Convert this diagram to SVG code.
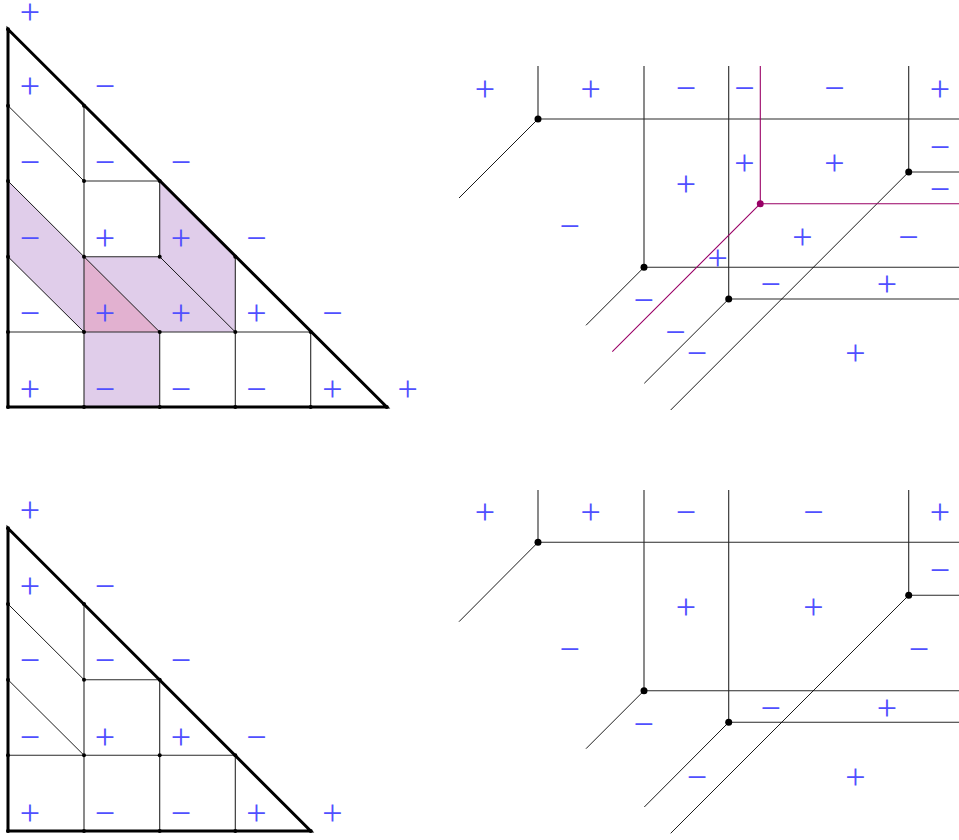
<svg xmlns="http://www.w3.org/2000/svg" width="959" height="840" viewBox="0 0 959 840">
<style>
.s{font-family:"Liberation Serif",serif;font-size:36px;fill:#5050ff;text-anchor:middle}
.b{fill:none;stroke:#000;stroke-width:3;stroke-linejoin:miter}
.g{fill:none;stroke:#2a2a2a;stroke-width:1.1}
.d{fill:none;stroke:#000;stroke-width:0.9}
.m{fill:none;stroke:#990066;stroke-width:1.1}
.dot{fill:#000}
.pu{fill:#e0cdea}
.pk{fill:#e2b1d0}
</style>
<rect width="959" height="840" fill="#fff"/>

<g id="tri-top">
  <g id="shading">
    <polygon class="pu" points="8,181 84,256.7 84,332 8,256.7"/>
    <polygon class="pu" points="84,256.7 159.7,256.7 235.3,332 159.7,332"/>
    <polygon class="pu" points="159.7,181 235.3,256.7 235.3,332 159.7,256.7"/>
    <polygon class="pu" points="84,332 159.7,332 159.7,407 84,407"/>
    <polygon class="pk" points="84,256.7 159.7,332 84,332"/>
  </g>
  <g id="tri-top-lines">
    <path class="d" d="M8,105.7 L84,181 M8,181 L84,256.7 M8,256.7 L84,332 M84,256.7 L159.7,332 M159.7,256.7 L235.3,332"/>
    <path class="g" d="M84,105.7 V407 M159.7,181 V256.7 M159.7,332 V407 M235.3,256.7 V407 M310.7,332 V407 M84,181 H159.7 M84,256.7 H159.7 M8,332 H310.7"/>
    <polygon class="b" points="8,29.3 8,407 386.7,407"/>
  </g>
  <g id="tri-top-dots" class="dot">
    <circle cx="8" cy="29.3" r="2"/><circle cx="8" cy="105.7" r="2"/><circle cx="8" cy="181" r="2"/><circle cx="8" cy="256.7" r="2"/><circle cx="8" cy="332" r="2"/><circle cx="8" cy="407" r="2"/>
    <circle cx="84" cy="105.7" r="2"/><circle cx="84" cy="181" r="2"/><circle cx="159.7" cy="181" r="2"/>
    <circle cx="84" cy="256.7" r="2"/><circle cx="159.7" cy="256.7" r="2"/><circle cx="235.3" cy="256.7" r="2"/>
    <circle cx="84" cy="332" r="2"/><circle cx="159.7" cy="332" r="2"/><circle cx="235.3" cy="332" r="2"/><circle cx="310.7" cy="332" r="2"/>
    <circle cx="84" cy="407" r="2"/><circle cx="159.7" cy="407" r="2"/><circle cx="235.3" cy="407" r="2"/><circle cx="310.7" cy="407" r="2"/><circle cx="386.7" cy="407" r="2"/>
  </g>
  <g id="tri-top-labels" transform="translate(0,3.5)">
    <text class="s" x="30" y="20">+</text>
    <text class="s" x="30" y="94">+</text><text class="s" x="105" y="94">−</text>
    <text class="s" x="30" y="170">−</text><text class="s" x="105" y="170">−</text><text class="s" x="181" y="170">−</text>
    <text class="s" x="30" y="246">−</text><text class="s" x="105" y="246">+</text><text class="s" x="181" y="246">+</text><text class="s" x="256.3" y="246">−</text>
    <text class="s" x="30" y="321">−</text><text class="s" x="105" y="321">+</text><text class="s" x="181" y="321">+</text><text class="s" x="256.3" y="321">+</text><text class="s" x="332.3" y="321">−</text>
    <text class="s" x="30" y="397">+</text><text class="s" x="105" y="397">−</text><text class="s" x="181" y="397">−</text><text class="s" x="256.3" y="397">−</text><text class="s" x="332.3" y="397">+</text><text class="s" x="407.7" y="397">+</text>
  </g>
</g>

<g id="trop-top">
  <g id="trop-top-lines">
    <path class="g" d="M538,66 V119 H959 M644,66 V267.3 H959 M728.7,66 V299 H959 M908.7,66 V172 H959"/>
    <path class="d" d="M538,119 L459,198 M644,267.3 L586,325.3 M728.7,299 L644.3,383.3 M908.7,172 L670.7,410"/>
    <path class="m" d="M760.3,66 V203.7 H959 M760.3,203.7 L612.3,351.7"/>
  </g>
  <g id="trop-top-dots">
    <circle class="dot" cx="538" cy="119" r="3.5"/>
    <circle class="dot" cx="644" cy="267.3" r="3.5"/>
    <circle class="dot" cx="728.7" cy="299" r="3.5"/>
    <circle class="dot" cx="908.7" cy="172" r="3.5"/>
    <circle cx="760.3" cy="203.7" r="3.5" fill="#990066"/>
  </g>
  <g id="trop-top-labels" transform="translate(0,3.5)">
    <text class="s" x="485" y="97">+</text><text class="s" x="590.7" y="97">+</text><text class="s" x="686" y="96">−</text><text class="s" x="744.3" y="96">−</text><text class="s" x="834.3" y="96">−</text><text class="s" x="940" y="97">+</text>
    <text class="s" x="940" y="155">−</text><text class="s" x="940" y="197">−</text>
    <text class="s" x="744.3" y="171">+</text><text class="s" x="834.3" y="171">+</text><text class="s" x="686" y="192">+</text>
    <text class="s" x="569.7" y="234">−</text><text class="s" x="802.3" y="245">+</text><text class="s" x="908.3" y="245">−</text>
    <text class="s" x="717.7" y="266">+</text><text class="s" x="770.7" y="292">−</text><text class="s" x="887" y="292">+</text>
    <text class="s" x="643.7" y="308">−</text><text class="s" x="675.3" y="340">−</text><text class="s" x="697" y="361">−</text><text class="s" x="855.3" y="361">+</text>
  </g>
</g>

<g id="tri-bottom">
  <g id="tri-bottom-lines">
    <path class="d" d="M8,604 L84,679.7 M8,679.7 L84,755.3"/>
    <path class="g" d="M84,604 V831 M159.7,679.7 V831 M235.3,755.3 V831 M84,679.7 H159.7 M8,755.3 H235.3"/>
    <polygon class="b" points="8,528.3 8,831 310.7,831"/>
  </g>
  <g id="tri-bottom-dots" class="dot">
    <circle cx="8" cy="528.3" r="2"/><circle cx="8" cy="604" r="2"/><circle cx="8" cy="679.7" r="2"/><circle cx="8" cy="755.3" r="2"/><circle cx="8" cy="831" r="2"/>
    <circle cx="84" cy="604" r="2"/><circle cx="84" cy="679.7" r="2"/><circle cx="159.7" cy="679.7" r="2"/>
    <circle cx="84" cy="755.3" r="2"/><circle cx="159.7" cy="755.3" r="2"/><circle cx="235.3" cy="755.3" r="2"/>
    <circle cx="84" cy="831" r="2"/><circle cx="159.7" cy="831" r="2"/><circle cx="235.3" cy="831" r="2"/><circle cx="310.7" cy="831" r="2"/>
  </g>
  <g id="tri-bottom-labels" transform="translate(0,3.5)">
    <text class="s" x="30" y="518">+</text>
    <text class="s" x="30" y="594">+</text><text class="s" x="105" y="594">−</text>
    <text class="s" x="30" y="668">−</text><text class="s" x="105" y="668">−</text><text class="s" x="181" y="668">−</text>
    <text class="s" x="30" y="745">−</text><text class="s" x="105" y="745">+</text><text class="s" x="181" y="745">+</text><text class="s" x="256.3" y="745">−</text>
    <text class="s" x="30" y="821">+</text><text class="s" x="105" y="821">−</text><text class="s" x="181" y="821">−</text><text class="s" x="256.3" y="821">+</text><text class="s" x="332.3" y="821">+</text>
  </g>
</g>

<g id="trop-bottom">
  <g id="trop-bottom-lines">
    <path class="g" d="M538,490 V542.3 H959 M644,490 V690.7 H959 M728.7,490 V722.3 H959 M908.7,490 V595.3 H959"/>
    <path class="d" d="M538,542.3 L459,621.7 M644,690.7 L586,748.7 M728.7,722.3 L644.3,807 M908.7,595.3 L670.7,833.3"/>
  </g>
  <g id="trop-bottom-dots" class="dot">
    <circle cx="538" cy="542.3" r="3.5"/>
    <circle cx="644" cy="690.7" r="3.5"/>
    <circle cx="728.7" cy="722.3" r="3.5"/>
    <circle cx="908.7" cy="595.3" r="3.5"/>
  </g>
  <g id="trop-bottom-labels" transform="translate(0,3.5)">
    <text class="s" x="485" y="520">+</text><text class="s" x="590.7" y="520">+</text><text class="s" x="686" y="520">−</text><text class="s" x="813.3" y="520">−</text><text class="s" x="940" y="520">+</text>
    <text class="s" x="940" y="578">−</text>
    <text class="s" x="686" y="615">+</text><text class="s" x="813.3" y="615">+</text>
    <text class="s" x="569.7" y="657">−</text><text class="s" x="919" y="657">−</text>
    <text class="s" x="770.7" y="716">−</text><text class="s" x="887" y="716">+</text>
    <text class="s" x="643.7" y="732">−</text>
    <text class="s" x="697" y="785">−</text><text class="s" x="855.3" y="785">+</text>
  </g>
</g>
</svg>
